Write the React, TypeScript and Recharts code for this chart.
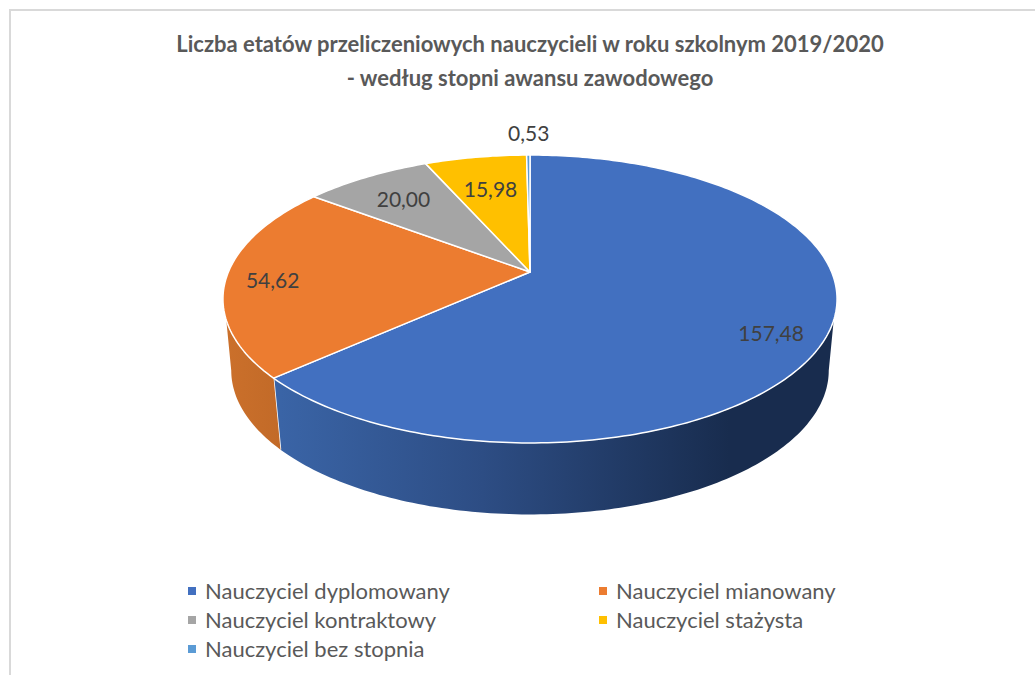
import { PieChart, Pie, Legend } from 'recharts';

const categories = [
  'Nauczyciel dyplomowany',
  'Nauczyciel mianowany',
  'Nauczyciel kontraktowy',
  'Nauczyciel stażysta',
  'Nauczyciel bez stopnia',
];
const etaty = [157.48, 54.62, 20.0, 15.98, 0.53];
const colors = ['#4270c0', '#ec7c30', '#a5a5a5', '#ffc000', '#5b9bd5'];
const wallFills = ['url(#blueWall)', 'url(#orangeWall)', '#7c7c7c', '#bf9000', '#44749f'];
const titleLines = [
  'Liczba etatów przeliczeniowych nauczycieli w roku szkolnym 2019/2020',
  '- według stopni awansu zawodowego',
];

const rows = categories.map((name, i) => ({
  name,
  value: etaty[i],
  fill: colors[i],
  wall: wallFills[i],
}));

const FONT = 'Lato, "Open Sans", sans-serif';
const CX = 530;
const CY = 272;
const RADIUS = 301.6;

// the pie is tilted with perspective, so the far half is squeezed
const TILT = 0.4605;
const PERSPECTIVE = 0.1875;
const RAD = Math.PI / 180;

// polar angle (recharts degrees) -> point on the tilted disc
function project(cx: number, cy: number, r: number, angle: number, f = 1) {
  const u = Math.cos(angle * RAD) * f;
  const v = Math.sin(angle * RAD) * f;
  const d = 1 + PERSPECTIVE * v;
  return { x: cx + (r * u) / d, y: cy - (r * TILT * v) / d };
}

// bottom rim of the disc: moved down and slightly narrower
function projectBottom(cx: number, cy: number, r: number, angle: number) {
  const p = project(cx, cy, r, angle);
  return { x: cx + (p.x - cx) * 0.973, y: p.y + 71.5 };
}

function arcPoints(from: number, to: number, fn: (a: number) => { x: number; y: number }) {
  const steps = Math.max(2, Math.ceil(Math.abs(from - to)));
  const pts: string[] = [];
  for (let i = 0; i <= steps; i++) {
    const p = fn(from + ((to - from) * i) / steps);
    pts.push(`${p.x.toFixed(2)} ${p.y.toFixed(2)}`);
  }
  return pts;
}

function TopSlice(props: any) {
  const { cx, cy, outerRadius, startAngle, endAngle, fill } = props;
  const rim = arcPoints(startAngle, endAngle, (a) => project(cx, cy, outerRadius, a));
  return (
    <path
      d={`M${cx} ${cy} L${rim.join(' L')} Z`}
      fill={fill}
      stroke="#ffffff"
      strokeWidth={1.5}
      strokeLinejoin="round"
    />
  );
}

function WallSlice(props: any) {
  const { cx, cy, outerRadius, startAngle, endAngle, wall } = props;
  // only the front of the wall can be seen
  const topFrom = Math.min(startAngle, -19);
  const topTo = Math.max(endAngle, -161);
  if (topFrom <= topTo) return null;
  const bottomFrom = startAngle > -19 ? -10.8 : startAngle;
  const bottomTo = endAngle < -161 ? -169.2 : endAngle;
  const top = arcPoints(topFrom, topTo, (a) => project(cx, cy, outerRadius, a));
  const bottom = arcPoints(bottomTo, bottomFrom, (a) => projectBottom(cx, cy, outerRadius, a));
  return (
    <g>
      <path d={`M${top.join(' L')} L${bottom.join(' L')} Z`} fill={wall} />
      {endAngle > -161 && (
        <path
          d={`M${top[top.length - 1]} L${bottom[0]}`}
          stroke="#ffffff"
          strokeWidth={1.5}
          fill="none"
        />
      )}
    </g>
  );
}

// Excel's hand placed data labels, relative to the default spot
const labelNudge = [
  [22, 16],
  [-30, 3],
  [0, 0],
  [3, 6],
  [0, -48],
];

function renderLabel(props: any) {
  const { cx, cy, outerRadius, midAngle, index, value } = props;
  const p = project(cx, cy, outerRadius, midAngle, 0.75);
  return (
    <text
      x={p.x + labelNudge[index][0]}
      y={p.y + labelNudge[index][1]}
      textAnchor="middle"
      dominantBaseline="central"
      fill="#404040"
      fontFamily={FONT}
      fontSize={21}
    >
      {Number(value).toFixed(2).replace('.', ',')}
    </text>
  );
}

function PieLegend({ payload }: any) {
  // both pies report their slices, one copy of each is enough
  const items = (payload ?? []).filter(
    (entry: any, i: number, all: any[]) => all.findIndex((e) => e.value === entry.value) === i,
  );
  return (
    <div
      style={{
        display: 'grid',
        gridTemplateColumns: '411px 300px',
        fontFamily: FONT,
        fontSize: 22,
        lineHeight: '29px',
        color: '#595959',
      }}
    >
      {items.map((entry: any) => (
        <div key={entry.value} style={{ display: 'flex', alignItems: 'center', whiteSpace: 'nowrap' }}>
          <span
            style={{
              width: 8,
              height: 8,
              marginRight: 9,
              backgroundColor: entry.payload?.fill ?? entry.color,
            }}
          />
          {entry.value}
        </div>
      ))}
    </div>
  );
}

export default function App() {
  return (
    <div style={{ position: 'absolute', left: 0, top: 0, width: 1035, height: 675, background: '#fff', overflow: 'hidden' }}>
      <div
        style={{
          position: 'absolute',
          left: 9,
          top: 9,
          right: -4,
          bottom: -4,
          borderTop: '2px solid #d9d9d9',
          borderLeft: '2px solid #d9d9d9',
        }}
      />
      <div
        style={{
          position: 'absolute',
          left: 80,
          width: 900,
          top: 27,
          textAlign: 'center',
          fontFamily: FONT,
          fontWeight: 700,
          fontSize: 22,
          lineHeight: '34px',
          color: '#595959',
        }}
      >
        {titleLines.map((line) => (
          <div key={line}>{line}</div>
        ))}
      </div>
      <div style={{ position: 'absolute', left: 0, top: 0 }}>
        <PieChart width={1035} height={675} margin={{ top: 0, right: 0, bottom: 0, left: 0 }}>
          <defs>
            <linearGradient id="blueWall" gradientUnits="userSpaceOnUse" x1={280} y1={0} x2={730} y2={0}>
              <stop offset="0" stopColor="#3a64a6" />
              <stop offset="0.45" stopColor="#2d4d84" />
              <stop offset="1" stopColor="#182c4e" />
            </linearGradient>
            <linearGradient id="orangeWall" gradientUnits="userSpaceOnUse" x1={225} y1={0} x2={280} y2={0}>
              <stop offset="0" stopColor="#cb702b" />
              <stop offset="1" stopColor="#c26a28" />
            </linearGradient>
          </defs>
          <Pie
            data={rows}
            dataKey="value"
            nameKey="name"
            cx={CX}
            cy={CY}
            outerRadius={RADIUS}
            startAngle={90}
            endAngle={-270}
            legendType="none"
            shape={WallSlice}
            isAnimationActive={false}
          />
          <Pie
            data={rows}
            dataKey="value"
            nameKey="name"
            cx={CX}
            cy={CY}
            outerRadius={RADIUS}
            startAngle={90}
            endAngle={-270}
            shape={TopSlice}
            label={renderLabel}
            labelLine={false}
            isAnimationActive={false}
          />
          <Legend
            content={<PieLegend />}
            itemSorter={null}
            wrapperStyle={{ position: 'absolute', left: 188, top: 576, width: 720, bottom: 'auto' }}
          />
        </PieChart>
      </div>
    </div>
  );
}
